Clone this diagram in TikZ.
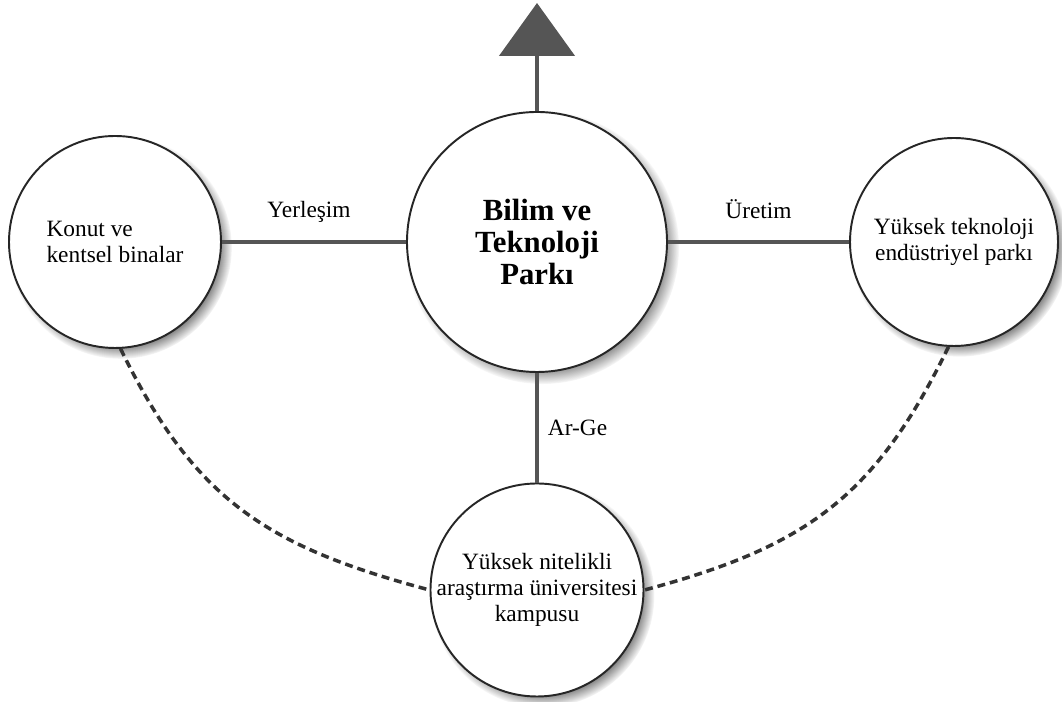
\documentclass[tikz,border=0pt]{standalone}
\usepackage{fontspec}
\setmainfont{Liberation Serif}
\usetikzlibrary{arrows.meta,shadows}
\definecolor{linegray}{HTML}{555555}
\definecolor{dashgray}{HTML}{333333}

\begin{document}
\begin{tikzpicture}[
        area/.style={circle, draw=black!85, line width=1.1pt, fill=white, inner sep=0pt,
                circular drop shadow={shadow xshift=3pt, shadow yshift=-3pt, shadow scale=1.05, opacity=0.8, fill=black!75},
                font=\fontsize{13.3}{15}\selectfont},
        link/.style={draw=linegray, line width=2.8pt},
        loose/.style={draw=dashgray, line width=2pt, dash pattern=on 4.5pt off 2.8pt},
        linklabel/.style={font=\fontsize{13.3}{15}\selectfont}
    ]
    \useasboundingbox (0,0) rectangle (21.24,14.04);

    % circles
    \node[area, minimum size=5.2cm, align=center, font=\bfseries\fontsize{17.5}{18}\selectfont] (park) at (10.74,9.2) {Bilim ve\\Teknoloji\\Parkı};
    \node[area, minimum size=4.24cm, align=left] (konut) at (2.3,9.2) {Konut ve\\kentsel binalar};
    \node[area, minimum size=4.16cm, align=center] (sanayi) at (19.08,9.2) {Yüksek teknoloji\\endüstriyel parkı};
    \node[area, minimum size=4.24cm, align=center] (kampus) at (10.74,2.24) {Yüksek nitelikli\\araştırma üniversitesi\\kampusu};

    % links
    \coordinate (tip) at (10.74,13.98);
    \draw[link, -{Triangle[width=1.5cm, length=1.06cm]}] (park.north) -- (tip);
    \draw[link] (konut.east) -- (park.west) node[linklabel, midway, anchor=base, yshift=0.48cm, xshift=-0.1cm] {Yerleşim};
    \draw[link] (park.east) -- (sanayi.west) node[linklabel, midway, anchor=base, yshift=0.46cm] {Üretim};
    \draw[link] (park.south) -- (kampus.north) node[linklabel, midway, right=1.5pt] {Ar-Ge};

    % dashed ties
    \draw[loose] (konut.-87) to[out=-64, in=165, looseness=1.1] (kampus.west);
    \draw[loose] (sanayi.-93) to[out=-116, in=15, looseness=1.1] (kampus.east);
\end{tikzpicture}
\end{document}
